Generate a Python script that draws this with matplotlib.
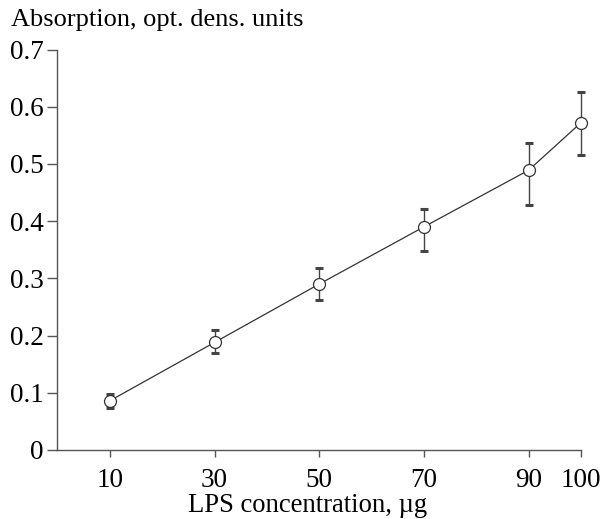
import matplotlib
matplotlib.use("Agg")
import matplotlib.pyplot as plt

concentration = [10, 30, 50, 70, 90, 100]
absorption = [0.086, 0.188, 0.290, 0.390, 0.489, 0.572]
err_low = [0.073, 0.169, 0.262, 0.348, 0.428, 0.516]
err_high = [0.098, 0.210, 0.318, 0.422, 0.537, 0.626]
x_ticks = [10, 30, 50, 70, 90, 100]
y_ticks = [0, 0.1, 0.2, 0.3, 0.4, 0.5, 0.6, 0.7]
y_tick_labels = ["0", "0.1", "0.2", "0.3", "0.4", "0.5", "0.6", "0.7"]

plt.rcParams['font.family'] = ['Liberation Serif', 'DejaVu Serif']

fig = plt.figure(figsize=(6.02, 5.19), dpi=100)
ax = fig.add_axes([0.0955, 0.133, 0.8695, 0.7716])

yerr = [[a - l for a, l in zip(absorption, err_low)],
        [h - a for a, h in zip(absorption, err_high)]]
eb = ax.errorbar(concentration, absorption, yerr=yerr, fmt='none',
                 ecolor='#444444', elinewidth=1.0, capsize=3.0, capthick=2.2, zorder=2)
for art in eb.lines[1]:
    art.set_clip_on(False)
for art in eb.lines[2]:
    art.set_clip_on(False)
ax.plot(concentration, absorption, color='#333333', lw=0.9, marker='o',
        markersize=8.6, markerfacecolor='white', markeredgecolor='#333333',
        markeredgewidth=0.9, zorder=3, clip_on=False)

ax.set_xlim(0, 100)
ax.set_ylim(0, 0.7)
ax.set_xticks(x_ticks)
ax.set_xticklabels([str(t) for t in x_ticks])
ax.set_yticks(y_ticks)
ax.set_yticklabels(y_tick_labels)

for s in ['top', 'right']:
    ax.spines[s].set_visible(False)
for s in ['left', 'bottom']:
    ax.spines[s].set_color('#555555')
    ax.spines[s].set_linewidth(1.0)

ax.tick_params(axis='y', direction='out', length=7, width=1, color='#555555',
               labelsize=19.5, pad=3)
ax.tick_params(axis='x', direction='out', length=5, width=1, color='#555555',
               labelsize=19.5, pad=8)

ax.set_xlabel('LPS concentration, µg', fontsize=19.2, labelpad=1)
ax.xaxis.set_label_coords(0.4776, -0.108)
fig.text(0.018, 0.962, 'Absorption, opt. dens. units', fontsize=19,
         ha='left', va='center')

fig.savefig('out.png', dpi=100)
